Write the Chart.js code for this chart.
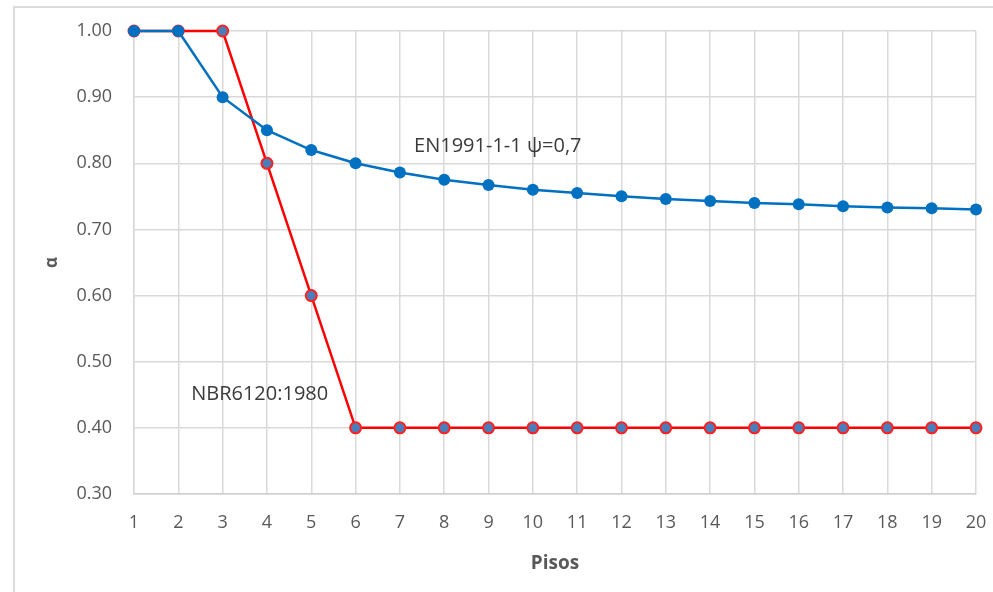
<!DOCTYPE html>
<html>
<head>
<meta charset="utf-8">
<script src="https://cdn.jsdelivr.net/npm/chart.js@4/dist/chart.umd.min.js"></script>
<style>
  html, body { margin: 0; padding: 0; background: #ffffff; overflow: hidden; }
  #wrap { position: relative; width: 993px; height: 592px; }
  #frame { position: absolute; left: 13px; top: 6px; width: 1000px; height: 620px;
           border: 2px solid #dcdcdc; box-sizing: border-box; }
  canvas { position: absolute; left: 0; top: 0; }
</style>
</head>
<body>
<div id="wrap">
  <div id="frame"></div>
  <canvas id="c" width="993" height="592"></canvas>
</div>
<script>
// Number of storeys
const pisos = [1, 2, 3, 4, 5, 6, 7, 8, 9, 10, 11, 12, 13, 14, 15, 16, 17, 18, 19, 20];

// Reduction factor α, EN1991-1-1 with ψ = 0,7
const alphaEN = [1.00, 1.00, 0.90, 0.85, 0.82, 0.80, 0.786, 0.775, 0.767, 0.76,
                 0.755, 0.75, 0.746, 0.743, 0.74, 0.738, 0.735, 0.733, 0.732, 0.73];

// Reduction factor α, NBR6120:1980
const alphaNBR = [1.00, 1.00, 1.00, 0.80, 0.60, 0.40, 0.40, 0.40, 0.40, 0.40,
                  0.40, 0.40, 0.40, 0.40, 0.40, 0.40, 0.40, 0.40, 0.40, 0.40];

// Y-axis tick values
const yTicks = [0.30, 0.40, 0.50, 0.60, 0.70, 0.80, 0.90, 1.00];

const seriesLabels = ['EN1991-1-1 \u03C8=0,7', 'NBR6120:1980'];

const FONT = "'Open Sans', 'Liberation Sans', sans-serif";

// Text labels placed in data coordinates
const labelPlugin = {
  id: 'seriesLabels',
  afterDatasetsDraw(chart, args, opts) {
    const { ctx, scales: { x, y } } = chart;
    ctx.save();
    ctx.font = opts.font;
    ctx.fillStyle = opts.color;
    ctx.textAlign = 'left';
    ctx.textBaseline = 'middle';
    opts.items.forEach(it => {
      ctx.fillText(it.text, x.getPixelForValue(it.x), y.getPixelForValue(it.y));
    });
    ctx.restore();
  }
};

const toPts = vals => vals.map((v, i) => ({ x: pisos[i], y: v }));

new Chart(document.getElementById('c'), {
  type: 'line',
  data: {
    datasets: [
      {
        label: seriesLabels[0],
        data: toPts(alphaEN),
        borderColor: '#0070C0',
        backgroundColor: '#0070C0',
        borderWidth: 2.5,
        pointRadius: 6,
        pointBorderWidth: 0,
        pointBackgroundColor: '#0070C0',
        tension: 0,
        clip: false
      },
      {
        label: seriesLabels[1],
        data: toPts(alphaNBR),
        borderColor: '#FF0000',
        backgroundColor: '#4A7EBB',
        borderWidth: 2.5,
        pointRadius: 5.5,
        pointBorderWidth: 2,
        pointBorderColor: '#FF2020',
        pointBackgroundColor: '#4A7EBB',
        tension: 0,
        clip: false
      }
    ]
  },
  options: {
    responsive: false,
    animation: false,
    events: [],
    layout: { padding: { left: 30, top: 31, right: 17, bottom: 0 } },
    plugins: {
      legend: { display: false },
      tooltip: { enabled: false },
      seriesLabels: {
        font: '20px ' + FONT,
        color: '#3a3a3a',
        items: [
          { text: seriesLabels[0], x: 7.32, y: 0.825 },
          { text: seriesLabels[1], x: 2.29, y: 0.45 }
        ]
      }
    },
    scales: {
      x: {
        type: 'linear',
        min: 1,
        max: 20,
        afterBuildTicks: s => { s.ticks = pisos.map(v => ({ value: v })); },
        afterFit: s => {
          s.height = 592 - 494;
          s.paddingLeft = 0;
          s.paddingRight = 0;
        },
        grid: { color: '#d9d9d9', lineWidth: 1.5, drawTicks: false },
        border: { color: '#d0d0d0', width: 1.5 },
        ticks: { padding: 18, color: '#595959', font: { family: FONT, size: 18 }, maxRotation: 0 },
        title: {
          display: true,
          text: 'Pisos',
          color: '#595959',
          font: { family: FONT, size: 19, weight: 'bold' },
          padding: { top: 0, bottom: 17 }
        }
      },
      y: {
        type: 'linear',
        min: 0.3,
        max: 1.0,
        afterBuildTicks: s => { s.ticks = yTicks.map(v => ({ value: v })); },
        afterFit: s => {
          s.width = 134 - 30;
          s.paddingTop = 0;
          s.paddingBottom = 0;
        },
        grid: { color: '#d9d9d9', lineWidth: 1.5, drawTicks: false },
        border: { color: '#d9d9d9', width: 1.5 },
        ticks: {
          padding: 22,
          color: '#595959',
          font: { family: FONT, size: 18 },
          callback: v => Number(v).toFixed(2)
        },
        title: {
          display: true,
          text: '\u03B1',
          color: '#595959',
          font: { family: FONT, size: 17, weight: 'bold' },
          padding: { top: 12, bottom: 0 }
        }
      }
    }
  },
  plugins: [labelPlugin]
});
</script>
</body>
</html>
